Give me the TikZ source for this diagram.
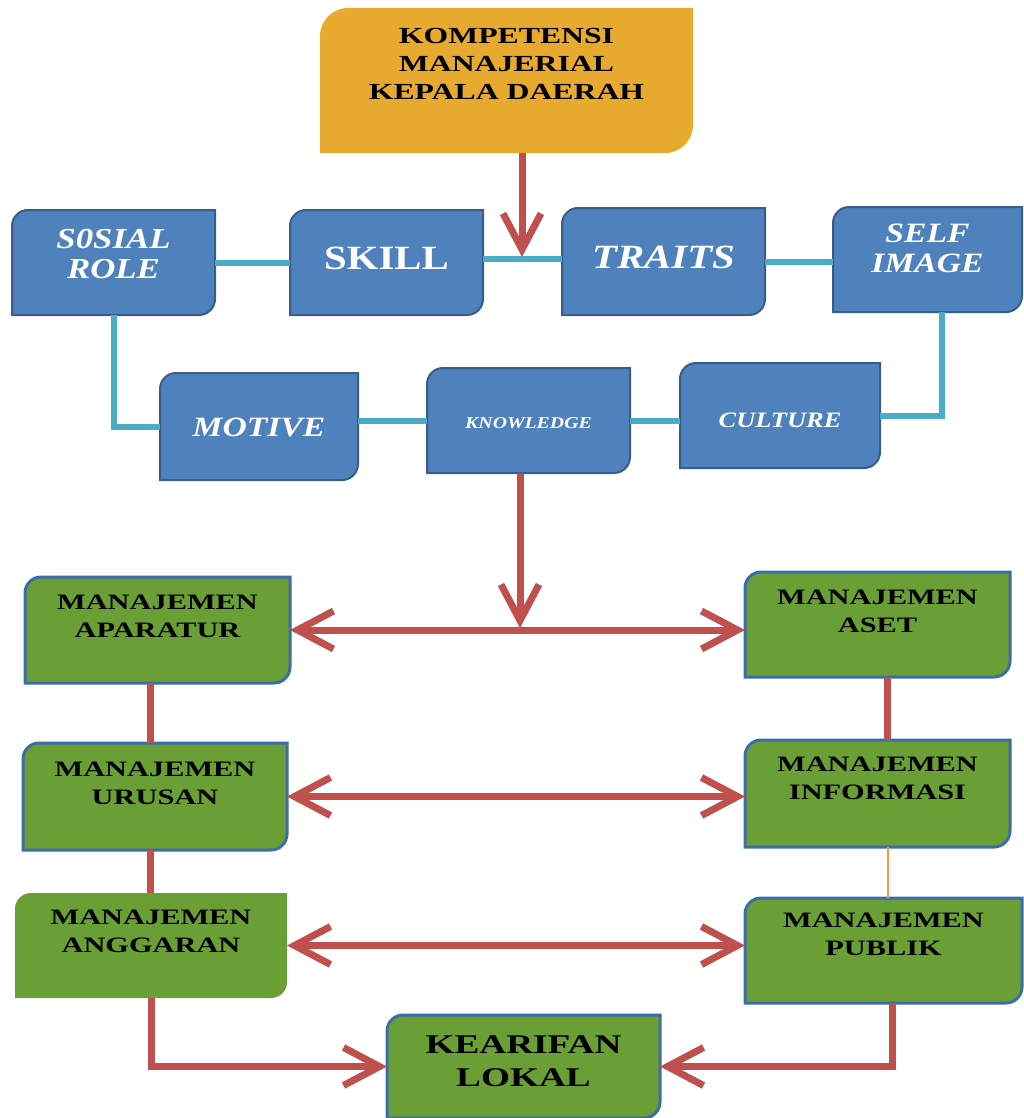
\documentclass[tikz,border=0pt]{standalone}
\usepackage{fontspec}
\usepackage{tikz}
\usetikzlibrary{arrows.meta}
\usetikzlibrary{backgrounds}
\newfontfamily\darkserif[FakeStretch=1.38]{Liberation Serif}
\newfontfamily\lightserif[FakeStretch=1.2]{Liberation Serif}
\definecolor{gold}{RGB}{232,170,46}
\definecolor{steelblue}{RGB}{79,129,189}
\definecolor{steeledge}{RGB}{56,93,138}
\definecolor{leafgreen}{RGB}{106,159,54}
\definecolor{leafedge}{RGB}{60,109,168}
\definecolor{brick}{RGB}{192,80,77}
\definecolor{aqua}{RGB}{75,172,198}
\definecolor{tangerine}{RGB}{247,150,70}
% box with round top-left and bottom-right corners
\newcommand{\cornerbox}[3]{%
  \path[#2] (#1.south west) -- ([yshift=-#3]#1.north west)
      arc[start angle=180, end angle=90, radius=#3] -- (#1.north east)
      -- ([yshift=#3]#1.south east)
      arc[start angle=0, end angle=-90, radius=#3] -- cycle;}
\tikzset{
  block/.style={inner sep=0pt, outer sep=0pt},
  goldbox/.style={fill=gold},
  bluebox/.style={fill=steelblue, draw=steeledge, line width=2pt},
  greenbox/.style={fill=leafgreen, draw=leafedge, line width=3pt},
  darktxt/.style={anchor=north, inner sep=0pt, align=center, text=black,
                  font=\darkserif\bfseries\fontsize{22}{28}\selectfont},
  lighttxt/.style={anchor=north, inner sep=0pt, align=center, text=white,
                   font=\lightserif\bfseries\itshape\fontsize{28}{30}\selectfont},
  cyanline/.style={draw=aqua, line width=6pt},
  redline/.style={draw=brick, line width=7pt},
  redarrow/.style={redline, -{Straight Barb[length=36pt,width=38pt]}},
  bothways/.style={redline, {Straight Barb[length=36pt,width=38pt]}-{Straight Barb[length=36pt,width=38pt]}}
}
\begin{document}
\begin{tikzpicture}[x=1pt, y=-1pt]
            \useasboundingbox (0,0) rectangle (1024,1118);
            % Top box
            \node[block, minimum width=373pt, minimum height=145pt,
                  label={[darktxt, yshift=-20pt, font=\darkserif\bfseries\fontsize{23}{28}\selectfont]north:{KOMPETENSI\\MANAJERIAL\\KEPALA DAERAH}}] (komp) at (506.5,80.5) {};
            % Competency boxes, first row
            \node[block, minimum width=203pt, minimum height=105pt,
                  label={[lighttxt, yshift=-19pt, font=\lightserif\bfseries\itshape\fontsize{29}{30}\selectfont]north:{S0SIAL\\ROLE}}] (sosial) at (113.5,262.5) {};
            \node[block, minimum width=193pt, minimum height=105pt,
                  label={[lighttxt, yshift=-37pt, font=\lightserif\bfseries\fontsize{34}{36}\selectfont]north:{SKILL}}] (skill) at (386.5,262.5) {};
            \node[block, minimum width=203pt, minimum height=107pt,
                  label={[lighttxt, yshift=-38pt, font=\lightserif\bfseries\itshape\fontsize{34}{36}\selectfont]north:{TRAITS}}] (traits) at (663.5,261.5) {};
            \node[block, minimum width=189pt, minimum height=105pt,
                  label={[lighttxt, yshift=-17pt]north:{SELF\\IMAGE}}] (self) at (927.5,259.5) {};
            % Competency boxes, second row
            \node[block, minimum width=198pt, minimum height=107pt,
                  label={[lighttxt, yshift=-45pt]north:{MOTIVE}}] (motive) at (259,426.5) {};
            \node[block, minimum width=203pt, minimum height=105pt,
                  label={[lighttxt, yshift=-49pt, font=\lightserif\bfseries\itshape\fontsize{16.5}{18}\selectfont]north:{KNOWLEDGE}}] (know) at (528.5,420.5) {};
            \node[block, minimum width=200pt, minimum height=105pt,
                  label={[lighttxt, yshift=-50pt, font=\lightserif\bfseries\itshape\fontsize{22}{24}\selectfont]north:{CULTURE}}] (culture) at (780,415.5) {};
            % Management boxes
            \node[block, minimum width=265pt, minimum height=106pt,
                  label={[darktxt, yshift=-18pt]north:{MANAJEMEN\\APARATUR}}] (apar) at (157.5,630) {};
            \node[block, minimum width=265pt, minimum height=105pt,
                  label={[darktxt, yshift=-18pt]north:{MANAJEMEN\\ASET}}] (aset) at (877.5,624.5) {};
            \node[block, minimum width=264pt, minimum height=107pt,
                  label={[darktxt, yshift=-19pt]north:{MANAJEMEN\\URUSAN}}] (urusan) at (155,796.5) {};
            \node[block, minimum width=265pt, minimum height=107pt,
                  label={[darktxt, yshift=-17pt]north:{MANAJEMEN\\INFORMASI}}] (info) at (877.5,793.5) {};
            \node[block, minimum width=272pt, minimum height=105pt,
                  label={[darktxt, yshift=-17pt]north:{MANAJEMEN\\ANGGARAN}}] (angg) at (151,945.5) {};
            \node[block, minimum width=277pt, minimum height=105pt,
                  label={[darktxt, yshift=-15pt]north:{MANAJEMEN\\PUBLIK}}] (publik) at (883.5,950.5) {};
            \node[block, minimum width=273pt, minimum height=103pt,
                  label={[darktxt, yshift=-20pt, font=\darkserif\bfseries\fontsize{27}{33}\selectfont]north:{KEARIFAN\\LOKAL}}] (kearifan) at (523.5,1066.5) {};
            % Box shapes behind the texts
            \begin{pgfonlayer}{background}
            \cornerbox{komp}{goldbox}{28pt}
            \cornerbox{sosial}{bluebox}{16pt}
            \cornerbox{skill}{bluebox}{16pt}
            \cornerbox{traits}{bluebox}{16pt}
            \cornerbox{self}{bluebox}{16pt}
            \cornerbox{motive}{bluebox}{16pt}
            \cornerbox{know}{bluebox}{16pt}
            \cornerbox{culture}{bluebox}{16pt}
            \cornerbox{apar}{greenbox}{16pt}
            \cornerbox{aset}{greenbox}{16pt}
            \cornerbox{urusan}{greenbox}{16pt}
            \cornerbox{info}{greenbox}{16pt}
            \cornerbox{angg}{fill=leafgreen}{16pt}
            \cornerbox{publik}{greenbox}{16pt}
            \cornerbox{kearifan}{greenbox}{16pt}
            \end{pgfonlayer}
            % Cyan links
            \draw[cyanline] (sosial.east) -- (skill.west);
            \draw[cyanline] ([yshift=4pt]skill.east) -- ([yshift=4pt]skill.east -| traits.west);
            \draw[cyanline] (traits.east) -- (traits.east -| self.west);
            \draw[cyanline] (sosial.south) |- (motive.west);
            \draw[cyanline] (know.west -| motive.east) -- (know.west);
            \draw[cyanline] (know.east) -- (know.east -| culture.west);
            \draw[cyanline] ([xshift=14pt]self.south) |- (culture.east);
            % Red arrows
            \coordinate (topjoin) at (522,257);
            \coordinate (midjoin) at (520,628);
            \draw[redarrow] (topjoin |- komp.south) -- (topjoin);
            \draw[redarrow] (midjoin |- know.south) -- (midjoin);
            \draw[bothways] (apar.east) -- (apar.east -| aset.west);
            \draw[bothways] (urusan.east) -- (urusan.east -| info.west);
            \draw[bothways] (angg.east) -- (angg.east -| publik.west);
            \draw[redline] ([xshift=-7pt]apar.south) -- ([xshift=-7pt]apar.south |- urusan.north);
            \draw[redline] ([xshift=10pt]aset.south) -- ([xshift=10pt]aset.south |- info.north);
            \draw[redline] ([xshift=-5pt]urusan.south) -- ([xshift=-5pt]urusan.south |- angg.north);
            \draw[draw=tangerine, line width=2pt] ([xshift=10pt]info.south) -- ([xshift=10pt]info.south |- publik.north);
            \draw[redarrow] (angg.south) |- (kearifan.west);
            \draw[redarrow] ([xshift=9pt]publik.south) |- (kearifan.east);
\end{tikzpicture}
\end{document}
